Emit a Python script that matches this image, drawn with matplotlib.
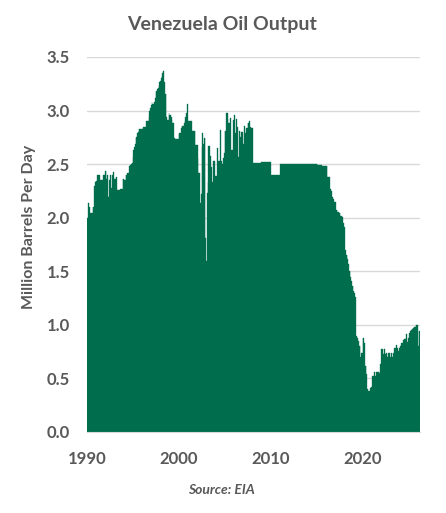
import numpy as np
import matplotlib
matplotlib.use("Agg")
import matplotlib.pyplot as plt

# monthly output, million barrels per day, Jan 1990 onwards
output_1990s = [
    2.00, 2.00, 2.14, 2.10, 2.04, 2.04, 2.04, 2.04, 2.10, 2.10, 2.30, 2.33,  # 1990
    2.34, 2.34, 2.40, 2.40, 2.40, 2.35, 2.35, 2.35, 2.35, 2.35, 2.40, 2.40,  # 1991
    2.44, 2.44, 2.36, 2.40, 2.19, 2.35, 2.35, 2.40, 2.28, 2.40, 2.40, 2.43,  # 1992
    2.36, 2.36, 2.37, 2.38, 2.26, 2.26, 2.26, 2.26, 2.27, 2.27, 2.27, 2.36,  # 1993
    2.36, 2.35, 2.35, 2.40, 2.40, 2.42, 2.42, 2.42, 2.48, 2.49, 2.50, 2.51,  # 1994
    2.57, 2.63, 2.66, 2.69, 2.74, 2.75, 2.79, 2.80, 2.83, 2.83, 2.83, 2.83,  # 1995
    2.83, 2.84, 2.85, 2.85, 2.85, 2.85, 2.90, 2.90, 2.90, 2.94, 3.00, 3.02,  # 1996
    3.05, 3.08, 3.06, 3.06, 3.08, 3.12, 3.17, 3.18, 3.20, 3.21, 3.23, 3.27,  # 1997
    3.28, 3.30, 3.32, 3.35, 3.37, 3.27, 3.15, 3.15, 2.94, 2.91, 2.91, 2.98,  # 1998
    2.96, 2.96, 2.94, 2.91, 2.88, 2.88, 2.74, 2.73, 2.73, 2.73, 2.73, 2.73,  # 1999
]
output_2000s = [
    2.78, 2.79, 2.79, 2.84, 2.86, 2.86, 2.86, 2.88, 2.90, 2.94, 2.98, 3.06,  # 2000
    2.90, 2.90, 2.90, 2.90, 2.90, 2.81, 2.81, 2.81, 2.81, 2.81, 2.68, 2.68,  # 2001
    2.68, 2.56, 2.42, 2.42, 2.14, 2.22, 2.66, 2.79, 2.69, 2.74, 2.74, 1.81,  # 2002
    1.60, 2.23, 2.33, 2.67, 2.67, 2.58, 2.47, 2.33, 2.33, 2.53, 2.53, 2.39,  # 2003
    2.39, 2.39, 2.65, 2.53, 2.53, 2.53, 2.82, 2.53, 2.50, 2.50, 2.56, 2.60,  # 2004
    2.81, 2.81, 2.98, 2.98, 2.92, 2.88, 2.88, 2.93, 2.48, 2.63, 2.63, 2.91,  # 2005
    2.96, 2.79, 2.79, 2.92, 2.85, 2.57, 2.57, 2.81, 2.75, 2.75, 2.80, 2.80,  # 2006
    2.69, 2.86, 2.79, 2.79, 2.84, 2.84, 2.88, 2.88, 2.90, 2.85, 2.73, 2.84,  # 2007
    2.84, 2.51, 2.51, 2.51, 2.51, 2.51, 2.51, 2.51, 2.51, 2.51, 2.51, 2.51,  # 2008
    2.52, 2.52, 2.52, 2.52, 2.52, 2.52, 2.52, 2.52, 2.52, 2.52, 2.52, 2.52,  # 2009
]
output_2010s = [
    2.40, 2.40, 2.40, 2.40, 2.40, 2.40, 2.40, 2.40, 2.40, 2.40, 2.40, 2.40,  # 2010
    2.50, 2.50, 2.50, 2.50, 2.50, 2.50, 2.50, 2.50, 2.50, 2.50, 2.50, 2.50,  # 2011
    2.50, 2.50, 2.50, 2.50, 2.50, 2.50, 2.50, 2.50, 2.50, 2.50, 2.50, 2.50,  # 2012
    2.50, 2.50, 2.50, 2.50, 2.50, 2.50, 2.50, 2.50, 2.50, 2.50, 2.50, 2.50,  # 2013
    2.50, 2.50, 2.50, 2.50, 2.50, 2.50, 2.50, 2.50, 2.50, 2.50, 2.50, 2.50,  # 2014
    2.50, 2.49, 2.49, 2.49, 2.49, 2.49, 2.49, 2.48, 2.48, 2.48, 2.48, 2.48,  # 2015
    2.48, 2.48, 2.38, 2.38, 2.38, 2.27, 2.27, 2.25, 2.19, 2.17, 2.17, 2.15,  # 2016
    2.15, 2.07, 2.07, 2.05, 2.05, 2.04, 2.04, 2.02, 2.02, 2.01, 1.95, 1.95,  # 2017
    1.91, 1.70, 1.65, 1.65, 1.61, 1.57, 1.50, 1.50, 1.45, 1.41, 1.36, 1.36,  # 2018
    1.32, 1.30, 1.26, 0.90, 0.90, 0.88, 0.85, 0.80, 0.80, 0.70, 0.74, 0.74,  # 2019
]
output_2020s = [
    0.88, 0.88, 0.83, 0.62, 0.62, 0.54, 0.40, 0.38, 0.38, 0.36, 0.41, 0.42,  # 2020
    0.52, 0.52, 0.52, 0.56, 0.52, 0.52, 0.56, 0.56, 0.56, 0.56, 0.55, 0.63,  # 2021
    0.77, 0.77, 0.70, 0.73, 0.77, 0.73, 0.73, 0.74, 0.70, 0.74, 0.74, 0.74,  # 2022
    0.70, 0.74, 0.70, 0.70, 0.74, 0.78, 0.78, 0.78, 0.81, 0.78, 0.76, 0.76,  # 2023
    0.78, 0.80, 0.83, 0.83, 0.83, 0.86, 0.87, 0.87, 0.88, 0.91, 0.84, 0.88,  # 2024
    0.88, 0.92, 0.94, 0.95, 0.95, 0.96, 0.97, 0.98, 0.98, 0.99, 1.00, 1.00,  # 2025
    0.80, 0.94, 0.94,                                                        # 2026
]
start_year = 1990
year_ticks = [1990, 2000, 2010, 2020]
y_ticks = [0.0, 0.5, 1.0, 1.5, 2.0, 2.5, 3.0, 3.5]

output = output_1990s + output_2000s + output_2010s + output_2020s
months = start_year + np.arange(len(output)) / 12.0

GREEN = "#006D4D"
TEXT = "#595959"
GRID = "#D9D9D9"
plt.rcParams["font.family"] = ["Lato", "DejaVu Sans"]

fig = plt.figure(figsize=(4.46, 5.13), dpi=100)
ax = fig.add_axes([0.194, 0.158, 0.748, 0.731])

ax.bar(months, output, width=1 / 12.0, align="edge", color=GREEN,
       edgecolor=GREEN, linewidth=0.25, zorder=2)

ax.set_xlim(start_year, start_year + len(output) / 12.0)
ax.set_ylim(0, 3.5)
ax.set_yticks(y_ticks)
ax.set_yticklabels([f"{v:.1f}" for v in y_ticks])
ax.set_xticks([y + 1 / 24.0 for y in year_ticks])
ax.set_xticklabels([str(y) for y in year_ticks])

ax.yaxis.grid(True, color=GRID, linewidth=1.0, zorder=0)
ax.set_axisbelow(True)
for side in ["top", "right", "left"]:
    ax.spines[side].set_visible(False)
ax.spines["bottom"].set_color(GRID)
ax.spines["bottom"].set_zorder(3)
ax.tick_params(axis="both", length=0, labelsize=12, labelcolor=TEXT)
ax.tick_params(axis="y", pad=12)
ax.tick_params(axis="x", pad=14)
for lbl in ax.get_xticklabels() + ax.get_yticklabels():
    lbl.set_fontweight("bold")

# y axis title sits a bit above the middle of the plot, as in the original
fig.text(29 / 446, 1 - 227 / 513, "Million Barrels Per Day", rotation=90,
         ha="center", va="center", fontsize=11.5, fontweight="bold",
         color=TEXT)

fig.text(0.497, 0.953, "Venezuela Oil Output", ha="center", va="center",
         fontsize=14, fontweight="bold", color=TEXT)
fig.text(0.497, 0.045, "Source: EIA", ha="center", va="center",
         fontsize=10, fontweight="bold", fontstyle="italic", color=TEXT)

fig.savefig("out.png", dpi=100)
